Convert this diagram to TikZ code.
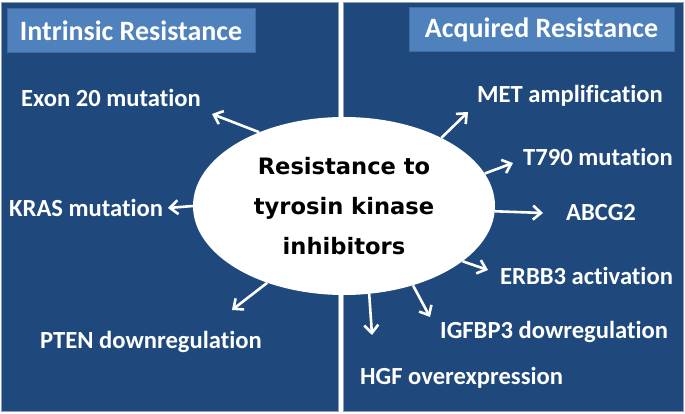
\documentclass[tikz,border=0pt]{standalone}
\usepackage{fontspec}
\setmainfont[Ligatures=NoCommon]{Carlito}
\newfontfamily\ellfont{DejaVu Sans}
\usetikzlibrary{shapes.geometric,arrows.meta}
\definecolor{panelblue}{HTML}{1F497D}
\definecolor{titleblue}{HTML}{4F81BD}
\definecolor{titleedge}{HTML}{3E6DA6}
\definecolor{paneledge}{HTML}{8AA0BC}
\tikzset{
  panel/.style={fill=panelblue,draw=paneledge,line width=0.6pt},
  titlebox/.style={fill=titleblue,draw=titleedge,line width=1pt,inner sep=0pt,text=white,font=\fontsize{28}{32}\selectfont\bfseries},
  lab/.style={anchor=west,inner sep=0pt,text=white,font=\fontsize{24.6}{28}\selectfont\bfseries},
  arr/.style={draw=white,line width=2.6pt,-{Straight Barb[length=8pt,width=14pt,line width=2.6pt]}},
}
\begin{document}
\begin{tikzpicture}[x=1pt,y=-1pt]
\useasboundingbox (0,0) rectangle (685,414);
\fill[white] (0,0) rectangle (685,414);
% panels
\draw[panel] (1,2) rectangle (338,411);
\draw[panel] (343,2) rectangle (683,411);
% titles
\node[titlebox,minimum width=248pt,minimum height=44pt] (tleft) at (131,31) {Intrinsic Resistance};
\node[titlebox,minimum width=265pt,minimum height=44pt] (tright) at (541.5,30) {Acquired Resistance};
% centre ellipse
\node[ellipse,fill=white,inner sep=0pt,minimum width=302pt,minimum height=178pt,align=center,
  font=\ellfont\fontsize{22.6}{40}\selectfont\bfseries] (ell) at (344,206) {Resistance to\\tyrosin kinase\\inhibitors};
% labels
\node[lab] (exon) at (21,98) {Exon 20 mutation};
\node[lab] (kras) at (9,208) {KRAS mutation};
\node[lab] (pten) at (40,342) {PTEN downregulation};
\node[lab] (met) at (477,96) {MET amplification};
\node[lab] (t790) at (523,157) {T790 mutation};
\node[lab] (abcg) at (566,213) {ABCG2};
\node[lab] (erbb) at (500,276) {ERBB3 activation};
\node[lab] (igf) at (440,332) {IGFBP3 dowregulation};
\node[lab] (hgf) at (360,378) {HGF overexpression};
% arrow tips
\coordinate (texon) at (212,114);
\coordinate (tkras) at (168,208);
\coordinate (tpten) at (232,310);
\coordinate (tmet) at (468,112);
\coordinate (tt790) at (513,163);
\coordinate (tabcg) at (543,213);
\coordinate (terbb) at (488,270);
\coordinate (tigf) at (430,317);
\coordinate (thgf) at (372,335);
% arrows
\draw[arr] (ell.139.7) -- (texon);
\draw[arr] (ell.180) -- (tkras);
\draw[arr] (ell.225.4) -- (tpten);
\draw[arr] (ell.35.1) -- (tmet);
\draw[arr] (ell.13.4) -- (tt790);
\draw[arr] (ell.-2.7) -- (tabcg);
\draw[arr] (ell.-25.2) -- (terbb);
\draw[arr] (ell.-49.6) -- (tigf);
\draw[arr] (ell.-74.7) -- (thgf);
\end{tikzpicture}
\end{document}
